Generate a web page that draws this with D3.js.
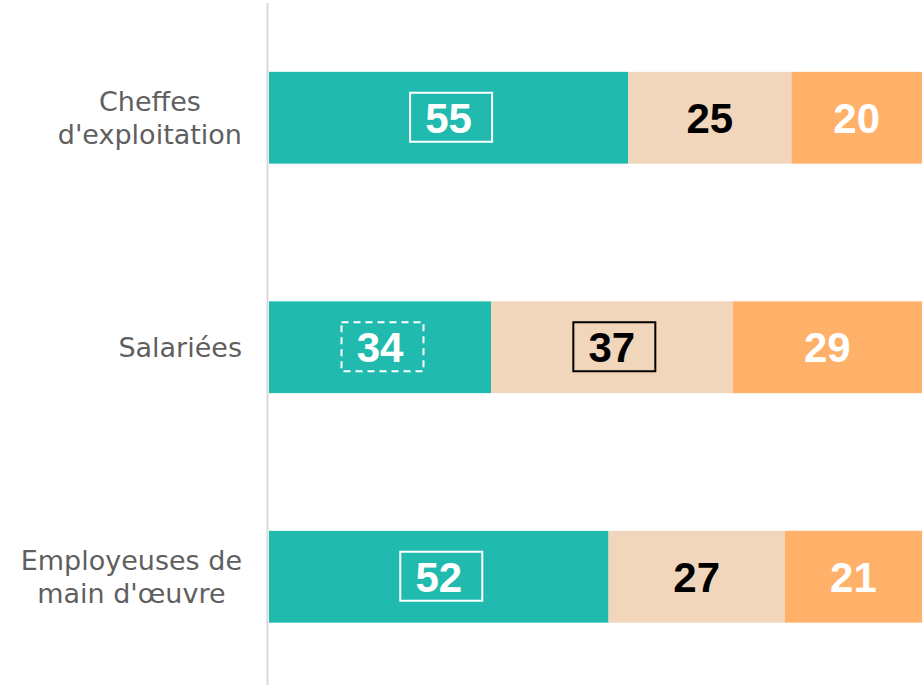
<!DOCTYPE html>
<html>
<head>
<meta charset="utf-8">
<script src="https://cdn.jsdelivr.net/npm/d3@7"></script>
<style>
  html, body { margin: 0; padding: 0; background: #fff; }
  svg { display: block; }
</style>
</head>
<body>
<svg id="chart"></svg>
<script>
// Chart size
const WIDTH = 922;
const HEIGHT = 685;

// Data
const categories = ["Cheffes\nd'exploitation", "Salariées", "Employeuses de\nmain d'œuvre"];
const seriesA = [55, 34, 52];
const seriesB = [25, 37, 27];
const seriesC = [20, 29, 21];
// box around the value label: "solid", "dashed" or null
const boxA = ["solid", "dashed", "solid"];
const boxB = [null, "solid", null];
const boxC = [null, null, null];

const COLORS = ["#21BAAF", "#F2D6BB", "#FFB069"];
const TEXT_COLORS = ["#ffffff", "#000000", "#ffffff"];

const svg = d3.select("#chart")
    .attr("width", WIDTH)
    .attr("height", HEIGHT);

const x = d3.scaleLinear().domain([0, 100]).range([269, 922]);
const y = d3.scaleBand()
    .domain(categories)
    .range([3, 3 + 229.5 * 3])
    .paddingInner(0.6)
    .paddingOuter(0.3);

// build stacked rows
const rows = categories.map((c, i) => ({ cat: c, a: seriesA[i], b: seriesB[i], c: seriesC[i] }));
const stack = d3.stack().keys(["a", "b", "c"])(rows);
const boxes = { a: boxA, b: boxB, c: boxC };

// axis line
svg.append("line")
    .attr("x1", 267.5).attr("x2", 267.5)
    .attr("y1", 3).attr("y2", HEIGHT)
    .attr("stroke", "#d9d9d9")
    .attr("stroke-width", 2);

stack.forEach((layer, k) => {
    const g = svg.append("g");
    g.selectAll("rect")
        .data(layer)
        .enter().append("rect")
        .attr("x", d => x(d[0]))
        .attr("y", d => y(d.data.cat))
        .attr("width", d => x(d[1]) - x(d[0]))
        .attr("height", y.bandwidth())
        .attr("fill", COLORS[k]);

    layer.forEach((d, i) => {
        const cx = (x(d[0]) + x(d[1])) / 2;
        const cy = y(d.data.cat) + y.bandwidth() / 2;
        const box = boxes[layer.key][i];
        if (box) {
            g.append("rect")
                .attr("x", cx - 38.5)
                .attr("y", cy - 25)
                .attr("width", 82)
                .attr("height", 49)
                .attr("fill", "none")
                .attr("stroke", TEXT_COLORS[k])
                .attr("stroke-width", 2)
                .attr("stroke-dasharray", box === "dashed" ? "7,5" : null);
        }
        g.append("text")
            .attr("x", cx)
            .attr("y", cy)
            .attr("dy", "0.36em")
            .attr("text-anchor", "middle")
            .attr("font-family", "'Liberation Sans', Arial, sans-serif")
            .attr("font-weight", "bold")
            .attr("font-size", 42)
            .attr("fill", TEXT_COLORS[k])
            .text(d[1] - d[0]);
    });
});

// category labels, lines centred within a block right-aligned at x=241
const LINE_H = 33;
categories.forEach(c => {
    const lines = c.split("\n");
    const t = svg.append("text")
        .attr("font-family", "'DejaVu Sans', sans-serif")
        .attr("font-size", 27)
        .attr("fill", "#5f5f5f")
        .attr("text-anchor", "middle");
    const cy = y(c) + y.bandwidth() / 2;
    const spans = lines.map((ln, j) => t.append("tspan")
        .attr("y", cy + (j - (lines.length - 1) / 2) * LINE_H)
        .attr("dy", "0.35em")
        .text(ln));
    const maxW = d3.max(spans, s => s.node().getComputedTextLength());
    spans.forEach(s => s.attr("x", 242 - maxW / 2));
});
</script>
</body>
</html>
